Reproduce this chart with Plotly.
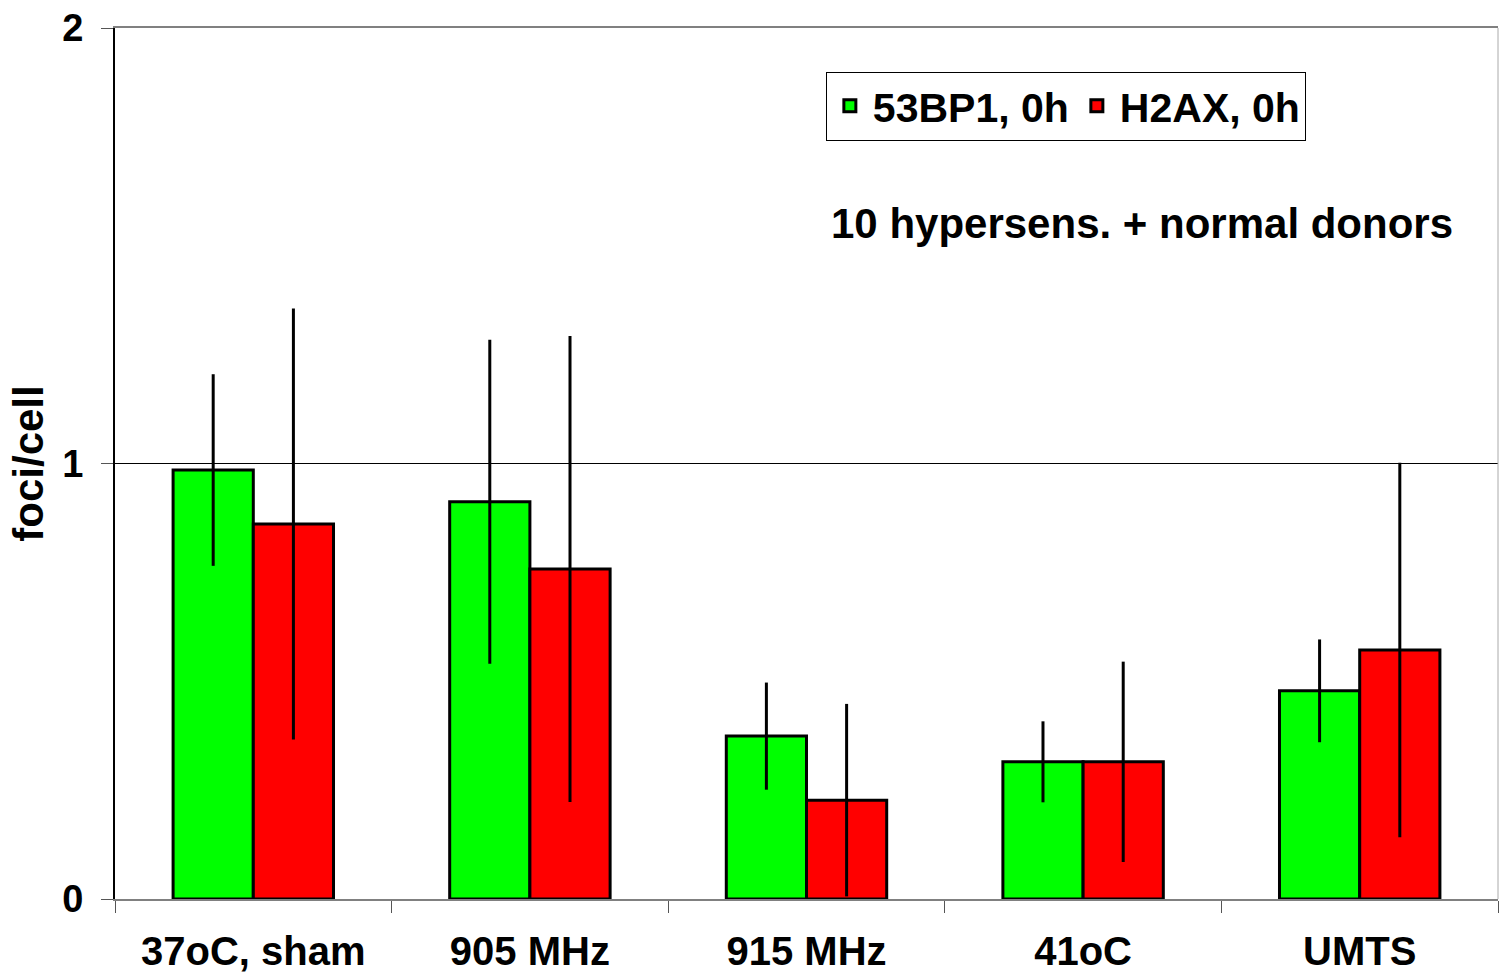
import plotly.graph_objects as go

categories = ["37oC, sham", "905 MHz", "915 MHz", "41oC", "UMTS"]
bp53_values = [0.985, 0.912, 0.374, 0.315, 0.478]
bp53_errors = [0.22, 0.372, 0.123, 0.093, 0.118]
h2ax_values = [0.861, 0.758, 0.227, 0.315, 0.572]
h2ax_errors = [0.495, 0.535, 0.221, 0.23, 0.43]
y_ticks = [0, 1, 2]

FONT = "Liberation Sans, Arial, sans-serif"

fig = go.Figure()
fig.add_trace(go.Bar(
    x=categories, y=bp53_values, name="53BP1, 0h",
    marker=dict(color="#00FF00", line=dict(color="black", width=3)),
    error_y=dict(type="data", array=bp53_errors, visible=True,
                 color="black", thickness=3, width=0),
))
fig.add_trace(go.Bar(
    x=categories, y=h2ax_values, name="H2AX, 0h",
    marker=dict(color="#FF0000", line=dict(color="black", width=3)),
    error_y=dict(type="data", array=h2ax_errors, visible=True,
                 color="black", thickness=3, width=0),
))

fig.update_layout(
    width=1500, height=979,
    margin=dict(l=115, r=2, t=28, b=80),
    paper_bgcolor="white", plot_bgcolor="white",
    barmode="group", bargap=0.42, bargroupgap=0,
    font=dict(family=FONT, color="black"),
    showlegend=True,
    legend=dict(
        orientation="h", x=0.514, y=0.95, xanchor="left", yanchor="top",
        bordercolor="black", borderwidth=1, bgcolor="white",
        font=dict(size=41, family=FONT, weight="bold"),
        itemwidth=36, tracegroupgap=0,
    ),
    xaxis=dict(
        showline=True, linecolor="#808080", linewidth=2, mirror=True,
        tickson="boundaries", ticks="outside", ticklen=12, tickcolor="#555555", tickwidth=1,
        tickfont=dict(size=40, family=FONT, weight="bold"),
        ticklabelstandoff=16, automargin=False,
        showgrid=False,
    ),
    yaxis=dict(
        range=[0, 2], tickvals=y_ticks, ticks="outside", ticklen=12,
        tickcolor="#555555", tickwidth=1,
        showline=True, linecolor="black", linewidth=2,
        showgrid=True, gridcolor="black", gridwidth=1, zeroline=False,
        tickfont=dict(size=38, family=FONT, weight="bold"),
        ticklabelstandoff=10, automargin=False,
        title=dict(text="foci/cell", font=dict(size=42, family=FONT, weight="bold"), standoff=6),
    ),
    annotations=[dict(
        text="10 hypersens. + normal donors", x=0.516, y=0.775, xref="paper", yref="paper",
        xanchor="left", yanchor="middle", showarrow=False,
        font=dict(size=42, family=FONT, weight="bold"),
    )],
)
fig.add_shape(type="line", xref="paper", yref="paper", x0=1, x1=1, y0=0, y1=1,
              line=dict(color="#AAAAAA", width=1))

fig.write_html("out.html")
